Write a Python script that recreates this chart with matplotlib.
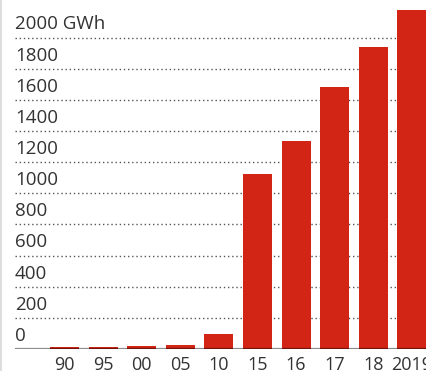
import numpy as np
import matplotlib.pyplot as plt
from matplotlib.lines import Line2D

# Datos
anios = ['90', '95', '00', '05', '10', '15', '16', '17', '18', '2019']
valores = [15, 15, 21, 28, 98, 1122, 1338, 1685, 1942, 2180]
marcas_y = [0, 200, 400, 600, 800, 1000, 1200, 1400, 1600, 1800, 2000]

rojo = '#d22516'
gris_texto = '#333333'

plt.rcParams['font.family'] = ['Open Sans', 'DejaVu Sans']

fig = plt.figure(figsize=(4.27, 3.71), dpi=100)
ax = fig.add_axes([15 / 427, 22 / 371, 412 / 427, 349 / 371])

x = np.arange(len(anios))
ax.bar(x, valores, width=0.75, color=rojo, zorder=2)

# lineas de guia punteadas con su etiqueta encima
for v in marcas_y:
    if v > 0:
        ax.axhline(v, color='#555555', lw=1, ls=(0, (1, 2)), zorder=1)
    etiqueta = '2000 GWh' if v == 2000 else str(v)
    ax.annotate(etiqueta, xy=(0, v), xycoords=('axes fraction', 'data'),
                xytext=(0, 3), textcoords='offset points',
                ha='left', va='bottom', fontsize=13.5, color=gris_texto)

# linea base
ax.axhline(0, color='black', alpha=0.45, lw=1.6, zorder=3)

ax.set_xlim(-1.282, 9.391)
ax.set_ylim(0, 2241.5)
ax.set_xticks(x)
ax.set_xticklabels(anios, fontsize=13, color=gris_texto)
ax.tick_params(axis='x', length=0, pad=5)
ax.set_yticks([])
for lado in ax.spines.values():
    lado.set_visible(False)

# borde gris claro a la izquierda
fig.add_artist(Line2D([0.5 / 427, 0.5 / 427], [0, 1], color='#dddddd', lw=1.5,
                      transform=fig.transFigure))

fig.savefig('out.png', dpi=100)
